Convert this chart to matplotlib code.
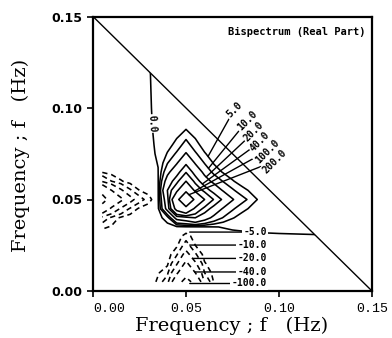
import numpy as np
import matplotlib
matplotlib.use("Agg")
import matplotlib.pyplot as plt
from matplotlib.patches import Polygon

# ---------------- data ----------------
# frequency bins (Hz); the estimate starts at the first non-DC bin
freq_grid = [0.005, 0.010, 0.015, 0.020, 0.025, 0.030, 0.035, 0.040, 0.045,
             0.050, 0.055, 0.060, 0.065, 0.070, 0.075, 0.080, 0.090, 0.100, 0.120, 0.150]

# Real part of the bispectrum, lower-triangle rows (row j: f2 = freq_grid[j],
# values for f1 = freq_grid[0..j]); B(f1, f2) = B(f2, f1).
bispec_rows = [
    [-1],
    [-1, -1],
    [-1, -1, -1],
    [-1.1, -1, -1, -1],
    [-1.3, -1.2, -1, -1, -1],
    [-1.8, -1.5, -1.2, -1, -1, -1.2],
    [-6, -4.5, -2.5, -1.8, -1.4, -1.5, -1.5],
    [-15, -8, -4, -2.5, -1.8, -1.5, -1.5, 2],
    [-65, -35, -18, -9, -4, -2.5, -1, 25, 120],
    [-130, -70, -45, -25, -13, -7, -0.5, 30, 170, 305],
    [-75, -40, -22, -11, -5, -3, -0.5, 40, 87, 180, 87],
    [-18, -10, -5.5, -3, -2, -1.5, -0.3, 27, 51, 100, 51, 27],
    [-4.5, -3, -2, -1.5, -1.2, -1, -0.1, 16, 31.5, 58, 31.5, 15.9, 8],
    [-1.8, -1.5, -1.2, -1, -0.9, -0.8, 0.1, 9.5, 18.5, 36, 18.5, 9.5, 4.5, 2.3],
    [-1.3, -1.1, -1, -0.8, -0.7, -0.6, 0.3, 5.4, 11, 21, 11, 5.4, 2.7, 1.5, 1.2],
    [-1, -0.9, -0.8, -0.7, -0.6, -0.5, 0.4, 3.1, 6.5, 12.5, 6.5, 3.1, 1.6, 1.1, 0.9, 0.8],
    [-0.7, -0.6, -0.5, -0.5, -0.4, -0.3, 0.5, 1.3, 2.0, 3.5, 2.0, 1.3, 0.9, 0.8, 0.7, 0.6, 0.5],
    [-0.5, -0.5, -0.4, -0.4, -0.3, -0.2, 0.5, 0.9, 1.1, 1.5, 1.0, 0.8, 0.6, 0.6, 0.5, 0.5, 0.4, 0.4],
    [-0.4, -0.4, -0.3, -0.3, -0.2, -0.1, 0.5, 0.6, 0.6, 0.6, 0.5, 0.5, 0.4, 0.4, 0.4, 0.4, 0.3, 0.3, 0.3],
    [-0.4, -0.3, -0.3, -0.2, -0.2, -0.1, 0.5, 0.5, 0.5, 0.4, 0.3, 0.3, 0.3, 0.3, 0.3, 0.3, 0.3, 0.2, 0.2, 0.2],
]

contour_levels = [-100, -40, -20, -10, -5, 5, 10, 20, 40, 60, 100, 200]
zero_level = [0]
pos_label_levels = [5, 10, 20, 40, 100, 200]
pos_label_texts = ["5.0", "10.0", "20.0", "40.0", "100.0", "200.0"]
neg_label_levels = [-5, -10, -20, -40, -100]
neg_label_texts = ["-5.0", "-10.0", "-20.0", "-40.0", "-100.0"]
zero_label_text = "0.0"
tick_values = [0.00, 0.05, 0.10, 0.15]
tick_labels = ["0.00", "0.05", "0.10", "0.15"]
nyquist_f1 = [0.0, 0.15]
nyquist_f2 = [0.15, 0.0]
title_text = "Bispectrum (Real Part)"
axis_label = "Frequency ; f   (Hz)"

# ---------------- layout / style ----------------
pos_label_xy = [(0.0758, 0.0989), (0.0828, 0.0929), (0.0866, 0.0869),
                (0.0898, 0.0814), (0.0935, 0.0765), (0.0978, 0.0710)]
pos_leader_target = (0.050, 0.052)
neg_label_x = 0.0935
neg_label_y = [0.0322, 0.0251, 0.0178, 0.0104, 0.0041]
neg_leader_stop = 0.052
zero_label_pos = (0.0312, 0.0915)
label_font = dict(family="DejaVu Sans Mono", fontweight="bold", fontsize=7)

n = len(freq_grid)
Z = np.full((n, n), np.nan)
for j, row in enumerate(bispec_rows):
    for i, v in enumerate(row):
        Z[j, i] = v
        Z[i, j] = v
g = np.array(freq_grid)

fig = plt.figure(figsize=(3.92, 3.38), dpi=100)
ax = fig.add_axes([93 / 392, 47 / 338, 279 / 392, 274.5 / 338])

styles = ["solid" if lv >= 0 else (0, (3.3, 2.4)) for lv in contour_levels]
cs = ax.contour(g, g, Z, levels=contour_levels, colors="k",
                linewidths=1.15, linestyles=styles)
cs0 = ax.contour(g, g, Z, levels=zero_level, colors="k",
                 linewidths=1.15, linestyles="solid")

def first_crossing(level, p0, p1):
    idx = list(cs.levels).index(level)
    p0 = np.asarray(p0, float)
    p1 = np.asarray(p1, float)
    d = p1 - p0
    best_t, best = np.inf, None
    for poly in cs.allsegs[idx]:
        if len(poly) < 2:
            continue
        a = poly[:-1]
        e = poly[1:] - a
        w = a - p0
        den = d[0] * e[:, 1] - d[1] * e[:, 0]
        ok = np.abs(den) > 1e-18
        den_s = np.where(ok, den, 1.0)
        t = (w[:, 0] * e[:, 1] - w[:, 1] * e[:, 0]) / den_s
        u = (w[:, 0] * d[1] - w[:, 1] * d[0]) / den_s
        m = ok & (t >= 0) & (t <= 1) & (u >= 0) & (u <= 1)
        if m.any():
            k = np.argmin(np.where(m, t, np.inf))
            if t[k] < best_t:
                best_t = t[k]
                best = p0 + t[k] * d
    return best if best is not None else p1

# leaders + labels for positive contours
for lv, txt, xy in zip(pos_label_levels, pos_label_texts, pos_label_xy):
    hit = first_crossing(lv, xy, pos_leader_target)
    ax.annotate(txt, xy=hit, xytext=xy, textcoords="data", rotation=45,
                ha="center", va="center", annotation_clip=False,
                bbox=dict(boxstyle="square,pad=0.1", fc="white", ec="none"),
                arrowprops=dict(arrowstyle="-", lw=1.0, color="k",
                                shrinkA=0, shrinkB=0), **label_font)

# leaders + labels for negative contours
for lv, txt, y in zip(neg_label_levels, neg_label_texts, neg_label_y):
    hit = first_crossing(lv, (neg_label_x - 0.02, y), (neg_leader_stop, y))
    ax.annotate(txt, xy=hit, xytext=(neg_label_x, y), textcoords="data",
                ha="right", va="center", annotation_clip=False,
                bbox=dict(boxstyle="square,pad=0.15", fc="white", ec="none"),
                arrowprops=dict(arrowstyle="-", lw=1.0, color="k",
                                shrinkA=0, shrinkB=0,
                                relpos=(0.0, 0.5)), **label_font)

zl = ax.clabel(cs0, manual=[zero_label_pos], inline=True,
               inline_spacing=2, fmt={0: zero_label_text}, fontsize=7)
for t in zl:
    t.set_family("DejaVu Sans Mono")
    t.set_fontweight("bold")

tri = Polygon([(0, 0), (0.15, 0), (0, 0.15)], closed=True, transform=ax.transData)
cs.set_clip_path(tri)
cs0.set_clip_path(tri)

ax.plot(nyquist_f1, nyquist_f2, color="k", lw=1.0)

ax.set_xlim(0, 0.15)
ax.set_ylim(0, 0.15)
ax.set_xticks(tick_values)
ax.set_yticks(tick_values)
ax.set_xticklabels(tick_labels, family="Liberation Mono", fontsize=9.5)
ax.set_yticklabels(tick_labels, family="DejaVu Sans", fontweight="bold", fontsize=9)
ax.get_xticklabels()[0].set_horizontalalignment("left")
ax.tick_params(direction="out", length=4.5, width=1.2, pad=3)
ax.tick_params(axis="x", pad=4)
for s in ax.spines.values():
    s.set_linewidth(1.6)

ax.text(0.975, 0.9435, title_text, transform=ax.transAxes, ha="right", va="center",
        family="DejaVu Sans Mono", fontweight="bold", fontsize=7.5)

fig.text(232 / 392, 1 - 326 / 338, axis_label, ha="center", va="center",
         family="DejaVu Serif", fontsize=14)
fig.text(21 / 392, 1 - 155 / 338, axis_label, ha="center", va="center",
         rotation=90, family="DejaVu Serif", fontsize=14)

fig.savefig("out.png", dpi=100)
